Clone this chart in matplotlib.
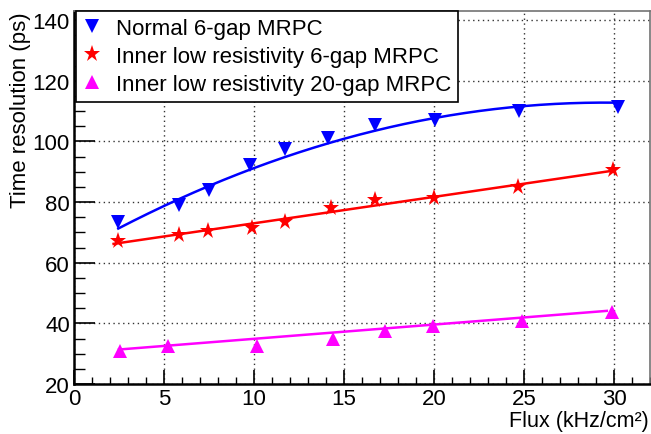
import numpy as np
import matplotlib
matplotlib.use("Agg")
import matplotlib.pyplot as plt
from matplotlib.ticker import MultipleLocator

plt.rcParams['font.family'] = ['Liberation Sans', 'DejaVu Sans']

# ---- data ----
labels = ["Normal 6-gap MRPC",
          "Inner low resistivity 6-gap MRPC",
          "Inner low resistivity 20-gap MRPC"]

x_normal = [2.46, 5.83, 7.5, 9.8, 11.7, 14.1, 16.7, 20.05, 24.7, 30.2]
y_normal = [73.3, 79.0, 84.0, 92.2, 97.4, 101.0, 105.3, 107.1, 109.9, 111.2]

x_low6 = [2.46, 5.83, 7.46, 9.9, 11.7, 14.3, 16.7, 20.0, 24.65, 29.96]
y_low6 = [67.0, 69.2, 70.5, 71.6, 73.3, 78.2, 80.6, 81.5, 85.0, 90.5]

x_low20 = [2.55, 5.24, 10.18, 14.37, 17.3, 19.96, 24.87, 29.9]
y_low20 = [31.0, 32.6, 32.6, 35.0, 37.6, 39.0, 40.9, 43.6]

# fit curves (polynomial coefficients, constant term first) as shown on chart
fit_normal = [63.37, 3.351, -0.0568]
fit_low6 = [64.3, 0.87]
fit_low20 = [30.2, 0.47]
fit_range = [(2.46, 30.2), (2.2, 30.0), (2.5, 29.6)]

colors = ['#0000ff', '#ff0000', '#ff00ff']
markers = ['v', '*', '^']
msizes = [10, 12.5, 10]

# ---- figure ----
fig = plt.figure(figsize=(6.51, 4.35), dpi=100)
ax = fig.add_axes([74/651, 50/435, 576/651, 373/435])

series = [(x_normal, y_normal), (x_low6, y_low6), (x_low20, y_low20)]
fits = [fit_normal, fit_low6, fit_low20]
handles = []
for (xs, ys), c, m, ms, coef, rng, lab in zip(series, colors, markers, msizes,
                                             fits, fit_range, labels):
    xf = np.linspace(rng[0], rng[1], 200)
    ax.plot(xf, np.polynomial.polynomial.polyval(xf, coef), color=c, lw=1.8, zorder=2)
    h, = ax.plot(xs, ys, linestyle='none', marker=m, color=c, ms=ms,
                 markeredgewidth=0, zorder=3, label=lab)
    handles.append(h)

ax.set_xlim(0, 32)
ax.set_ylim(20, 143)
ax.xaxis.set_major_locator(MultipleLocator(5))
ax.xaxis.set_minor_locator(MultipleLocator(1))
ax.yaxis.set_major_locator(MultipleLocator(20))
ax.yaxis.set_minor_locator(MultipleLocator(5))

ax.tick_params(axis='both', which='both', direction='in', labelsize=16,
               top=False, right=False, colors='black')
ax.tick_params(axis='y', which='major', length=15, width=1.2, pad=3)
ax.tick_params(axis='y', which='minor', length=8, width=1.0)
ax.tick_params(axis='x', which='major', length=10, width=1.2, pad=3)
ax.tick_params(axis='x', which='minor', length=5, width=1.0)

ax.grid(True, which='major', color='0.2', linestyle=(0, (1, 2.5)), lw=1.0)
ax.set_axisbelow(True)

for s in ['left', 'bottom']:
    ax.spines[s].set_color('black')
    ax.spines[s].set_linewidth(1.8)
for s in ['top', 'right']:
    ax.spines[s].set_color('0.45')
    ax.spines[s].set_linewidth(1.2)

ax.set_ylabel("Time resolution (ps)", fontsize=16, loc='top')
ax.yaxis.set_label_coords(-0.074, 1.0)
ax.set_xlabel("Flux (kHz/cm²)", fontsize=15.5, loc='right')
ax.xaxis.label.set_va('baseline')
ax.xaxis.set_label_coords(0.998, -0.113)

leg = ax.legend(handles=handles, loc='upper left', bbox_to_anchor=(0.003, 1.0),
                fontsize=16, frameon=True, fancybox=False, edgecolor='black',
                framealpha=1, handlelength=0.9, handletextpad=0.6,
                labelspacing=0.32, borderpad=0.3, borderaxespad=0.0,
                markerscale=1.0)
leg.get_frame().set_linewidth(1.2)
leg.set_zorder(5)

fig.savefig("out.png", dpi=100)
